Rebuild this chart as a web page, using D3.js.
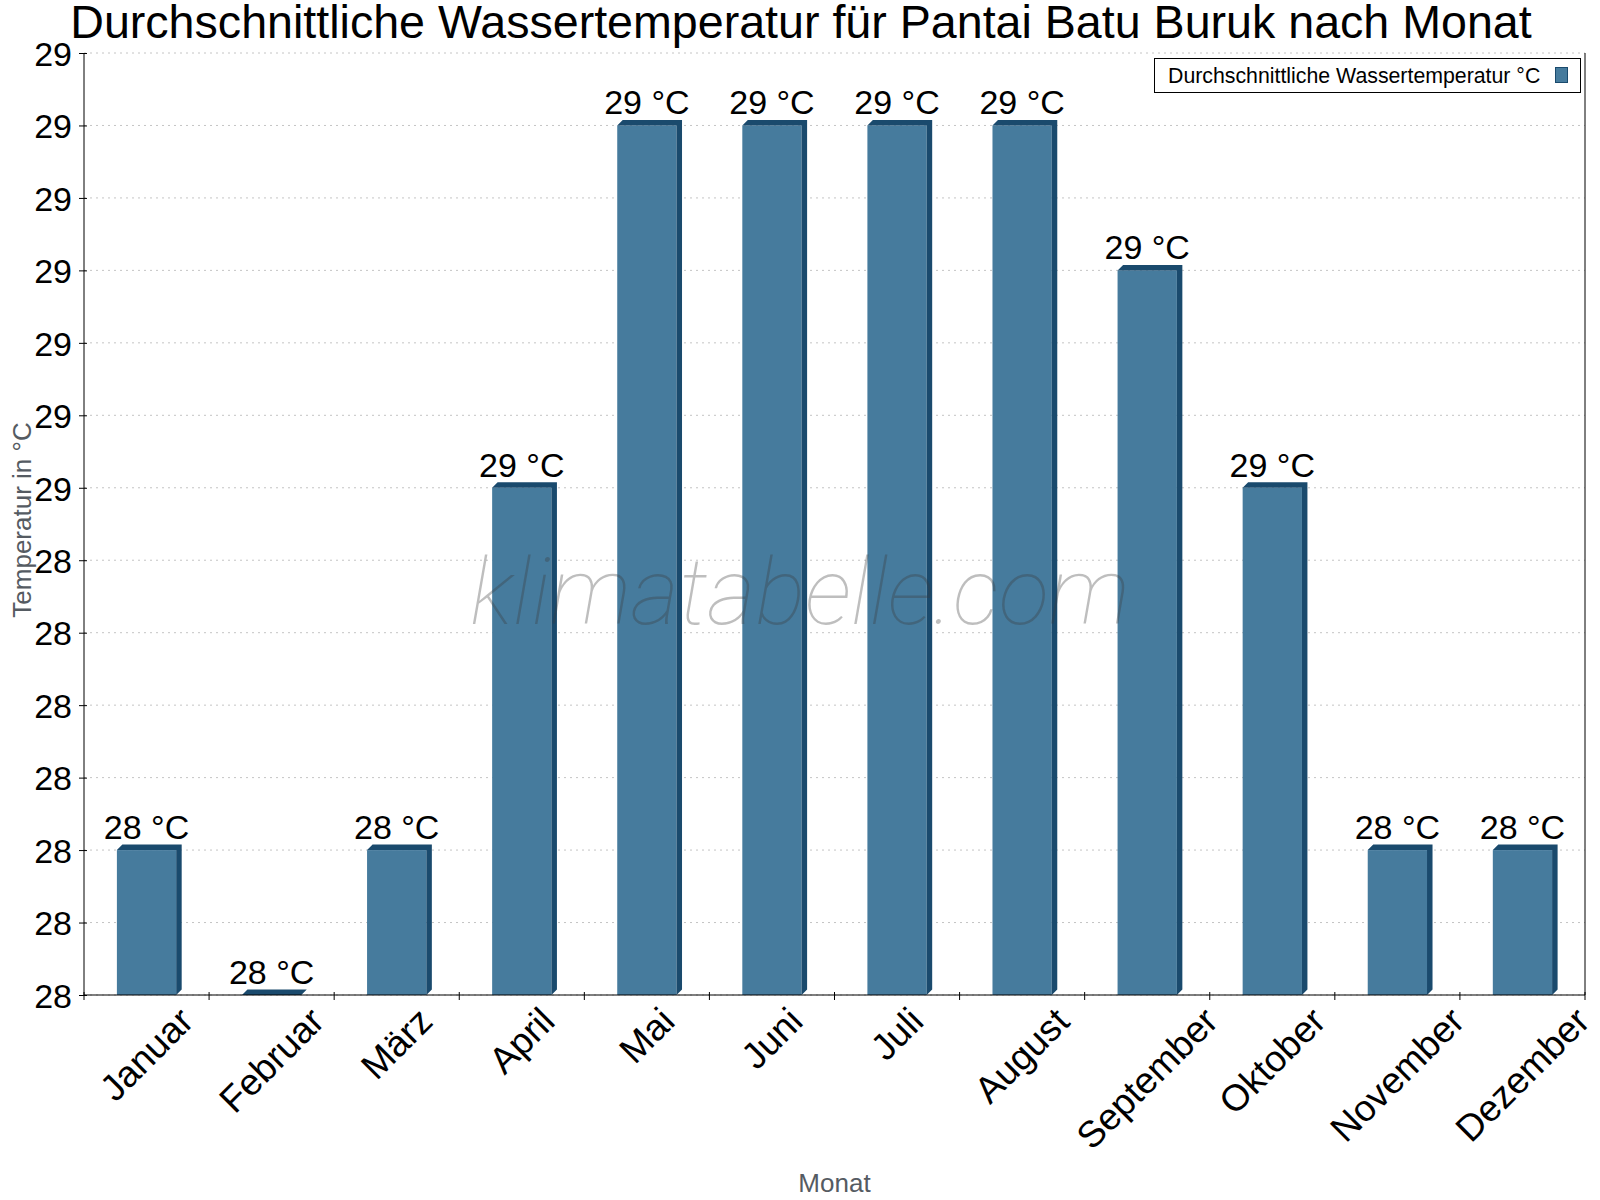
<!DOCTYPE html>
<html>
<head>
<meta charset="utf-8">
<script src="https://cdn.jsdelivr.net/npm/d3@7"></script>
<style>
  body { margin: 0; background: #fff; }
  svg { font-family: "Liberation Sans", Arial, sans-serif; }
</style>
</head>
<body>
<svg></svg>
<script>
var WIDTH = 1600;
var HEIGHT = 1200;

var months = ['Januar', 'Februar', 'März', 'April', 'Mai', 'Juni', 'Juli', 'August', 'September', 'Oktober', 'November', 'Dezember'];
var waterTemp = [28.0, 27.8, 28.0, 28.5, 29.0, 29.0, 29.0, 29.0, 28.8, 28.5, 28.0, 28.0];
var yTicks = [27.8, 27.9, 28.0, 28.1, 28.2, 28.3, 28.4, 28.5, 28.6, 28.7, 28.8, 28.9, 29.0, 29.1];

// plot area (note: "top" is taken by window.top, so use other names)
var plotL = 84, plotR = 1585, plotT = 53, plotB = 995;
var depth = 5.5;

var svg = d3.select('svg')
  .attr('width', WIDTH)
  .attr('height', HEIGHT);

var xScale = d3.scaleBand()
  .domain(months)
  .range([plotL, plotR]);

var yScale = d3.scaleLinear()
  .domain([yTicks[0], yTicks[yTicks.length - 1]])
  .range([plotB, plotT]);

// grid lines
svg.append('g')
  .selectAll('line')
  .data(yTicks)
  .enter()
  .append('line')
  .attr('x1', plotL)
  .attr('x2', plotR)
  .attr('y1', function(d){ return yScale(d); })
  .attr('y2', function(d){ return yScale(d); })
  .attr('stroke', '#c4c4c4')
  .attr('stroke-width', 1)
  .attr('stroke-dasharray', '2,4');

// bars (front + side + top for the 3d look)
var frontW = xScale.bandwidth() * 0.474;
var bars = svg.append('g').selectAll('g')
  .data(waterTemp)
  .enter()
  .append('g');

bars.append('rect')
  .attr('x', function(d, i){ return xScale(months[i]) + xScale.bandwidth() / 2 - frontW / 2; })
  .attr('y', function(d){ return yScale(d); })
  .attr('width', frontW)
  .attr('height', function(d){ return plotB - yScale(d); })
  .attr('fill', '#467b9d');

bars.append('path')
  .attr('fill', '#1a4a6d')
  .attr('d', function(d, i){
    var x0 = xScale(months[i]) + xScale.bandwidth() / 2 - frontW / 2;
    var x1 = x0 + frontW;
    var yt = yScale(d);
    // side face
    var side = 'M' + x1 + ',' + yt + 'L' + (x1 + depth) + ',' + (yt - depth) +
      'L' + (x1 + depth) + ',' + (plotB - depth) + 'L' + x1 + ',' + plotB + 'Z';
    // top face
    var topFace = 'M' + x0 + ',' + yt + 'L' + (x0 + depth) + ',' + (yt - depth) +
      'L' + (x1 + depth) + ',' + (yt - depth) + 'L' + x1 + ',' + yt + 'Z';
    return side + topFace;
  });

// value labels
bars.append('text')
  .attr('x', function(d, i){ return xScale(months[i]) + xScale.bandwidth() / 2; })
  .attr('y', function(d){ return yScale(d) - 11; })
  .attr('text-anchor', 'middle')
  .attr('font-size', 34)
  .attr('fill', '#000')
  .text(function(d){ return Math.round(d) + ' °C'; });

// watermark
svg.append('text')
  .attr('x', 800)
  .attr('y', 624)
  .attr('text-anchor', 'middle')
  .attr('font-family', 'Roboto, sans-serif')
  .attr('font-weight', 100)
  .attr('font-style', 'italic')
  .attr('font-size', 92)
  .attr('textLength', 660)
  .attr('lengthAdjust', 'spacingAndGlyphs')
  .attr('fill', '#3a3a3a')
  .attr('fill-opacity', 0.33)
  .text('klimatabelle.com');

// y axis
var leftAxis = d3.axisLeft(yScale)
  .tickValues(yTicks)
  .tickSize(5)
  .tickPadding(7)
  .tickFormat(function(d){ return Math.round(d); });
var yAxis = svg.append('g')
  .attr('transform', 'translate(' + plotL + ',0)')
  .call(leftAxis);
yAxis.selectAll('.tick line').attr('x1', 3).attr('stroke', '#000');
yAxis.select('.domain').attr('d', 'M0,' + plotT + 'V' + plotB).attr('stroke', '#000');
yAxis.selectAll('text')
  .attr('font-size', 34)
  .attr('font-family', '"Liberation Sans", Arial, sans-serif')
  .attr('fill', '#000')
  .attr('dy', '0.36em');

// right border line
svg.append('line')
  .attr('x1', plotR).attr('x2', plotR)
  .attr('y1', plotT).attr('y2', plotB)
  .attr('stroke', '#000');

// x axis line and ticks at band edges
var edges = months.map(function(m){ return xScale(m); }).concat([plotR]);
svg.append('line')
  .attr('x1', plotL).attr('x2', plotR)
  .attr('y1', plotB).attr('y2', plotB)
  .attr('stroke', '#000');
svg.append('g').selectAll('line')
  .data(edges)
  .enter()
  .append('line')
  .attr('x1', function(d){ return d; })
  .attr('x2', function(d){ return d; })
  .attr('y1', plotB - 3)
  .attr('y2', plotB + 5)
  .attr('stroke', '#000');

// rotated month labels, bbox centred under each band
var labelG = svg.append('g').selectAll('g')
  .data(months)
  .enter()
  .append('g');
labelG.append('text')
  .attr('font-size', 37)
  .attr('fill', '#000')
  .attr('text-anchor', 'end')
  .attr('transform', 'rotate(-45)')
  .text(function(d){ return d; });
labelG.each(function(d){
  var b = this.getBBox();
  var cx = xScale(d) + xScale.bandwidth() / 2;
  var tx = cx - (b.x + b.width / 2);
  var ty = 1000 - b.y;
  d3.select(this).attr('transform', 'translate(' + tx + ',' + ty + ')');
});

// axis titles
svg.append('text')
  .attr('x', (plotL + plotR) / 2)
  .attr('y', 1192)
  .attr('text-anchor', 'middle')
  .attr('font-size', 26)
  .attr('fill', '#555b62')
  .text('Monat');

svg.append('text')
  .attr('transform', 'translate(31,' + 520 + ') rotate(-90)')
  .attr('text-anchor', 'middle')
  .attr('font-size', 26)
  .attr('fill', '#555b62')
  .text('Temperatur in °C');

// title
svg.append('text')
  .attr('x', 801)
  .attr('y', 38)
  .attr('text-anchor', 'middle')
  .attr('font-size', 46.6)
  .attr('fill', '#000')
  .text('Durchschnittliche Wassertemperatur für Pantai Batu Buruk nach Monat');

// legend
var legend = svg.append('g');
legend.append('rect')
  .attr('x', 1154.5).attr('y', 58.5)
  .attr('width', 426).attr('height', 34)
  .attr('fill', '#fff')
  .attr('stroke', '#000');
legend.append('text')
  .attr('x', 1168)
  .attr('y', 83)
  .attr('font-size', 21.3)
  .attr('fill', '#000')
  .text('Durchschnittliche Wassertemperatur °C');
legend.append('rect')
  .attr('x', 1555.5).attr('y', 67.5)
  .attr('width', 12).attr('height', 15)
  .attr('fill', '#467b9d')
  .attr('stroke', '#1a4a6d');
</script>
</body>
</html>
